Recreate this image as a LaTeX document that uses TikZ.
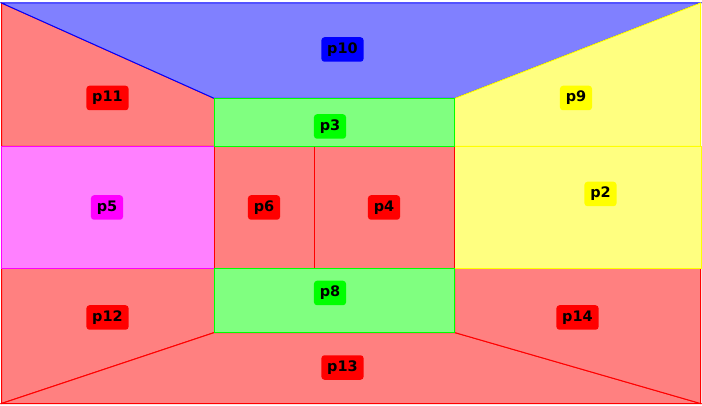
\documentclass[tikz,border=0pt]{standalone}
\usepackage{fontspec}
\setmainfont{DejaVu Sans}
\begin{document}
\begin{tikzpicture}[x=1pt,y=-1pt,
  reg/.style={line width=1pt},
  lab/.style={rounded corners=3pt, font=\fontsize{14.5}{16}\selectfont\bfseries, text=black,
    inner xsep=5.8pt, inner ysep=0pt, minimum height=24.5pt, text height=11pt, text depth=3pt},
  rr/.style={reg, draw={rgb,255:red,255;green,0;blue,0}, fill={rgb,255:red,255;green,128;blue,128}},
  bb/.style={reg, draw={rgb,255:red,0;green,0;blue,255}, fill={rgb,255:red,128;green,128;blue,255}},
  gg/.style={reg, draw={rgb,255:red,0;green,255;blue,0}, fill={rgb,255:red,128;green,255;blue,128}},
  yy/.style={reg, draw={rgb,255:red,255;green,255;blue,0}, fill={rgb,255:red,255;green,255;blue,128}},
  mm/.style={reg, draw={rgb,255:red,255;green,0;blue,255}, fill={rgb,255:red,255;green,128;blue,255}},
  lr/.style={lab, fill={rgb,255:red,255;green,0;blue,0}},
  lb/.style={lab, fill={rgb,255:red,0;green,0;blue,255}},
  lg/.style={lab, fill={rgb,255:red,0;green,255;blue,0}},
  ly/.style={lab, fill={rgb,255:red,255;green,255;blue,0}},
  lm/.style={lab, fill={rgb,255:red,255;green,0;blue,255}},
]
\useasboundingbox (0,0) rectangle (702,406);
% regions
\draw[rr] (1.5,3) -- (214.5,98.5) -- (214.5,146.5) -- (1.5,146.5) -- cycle;
\draw[rr] (1.5,268.5) -- (214.5,268.5) -- (214.5,332.5) -- (1.5,403.5) -- cycle;
\draw[rr] (1.5,403.5) -- (214.5,332.5) -- (454.5,332.5) -- (700.5,403.5) -- cycle;
\draw[rr] (454.5,268.5) -- (700.5,268.5) -- (700.5,403.5) -- (454.5,332.5) -- cycle;
\draw[bb] (1.5,3) -- (700.5,3) -- (454.5,98.5) -- (214.5,98.5) -- cycle;
\draw[yy] (700.5,3) -- (700.5,146.5) -- (454.5,146.5) -- (454.5,98.5) -- cycle;
\draw[mm] (1.5,146.5) rectangle (214.5,268.5);
\draw[yy] (454.5,146.5) rectangle (701,268.5);
\draw[rr] (214.5,146.5) rectangle (314.5,268.5);
\draw[rr] (314.5,146.5) rectangle (454.5,268.5);
\draw[gg] (214.5,98.5) rectangle (454.5,146.5);
\draw[gg] (214.5,268.5) rectangle (454.5,332.5);
% labels
\node[lb] (p10) at (342.5,49.5) {p10};
\node[lr] (p11) at (107.5,98) {p11};
\node[ly] (p9) at (576,98) {p9};
\node[lg] (p3) at (330,126.5) {p3};
\node[lm] (p5) at (107,207.5) {p5};
\node[lr] (p6) at (264,207.5) {p6};
\node[lr] (p4) at (384,207.5) {p4};
\node[ly] (p2) at (600.5,194) {p2};
\node[lg] (p8) at (330,293) {p8};
\node[lr] (p12) at (107.5,317.5) {p12};
\node[lr] (p14) at (577.5,317.5) {p14};
\node[lr] (p13) at (342.5,367.5) {p13};
\end{tikzpicture}
\end{document}
